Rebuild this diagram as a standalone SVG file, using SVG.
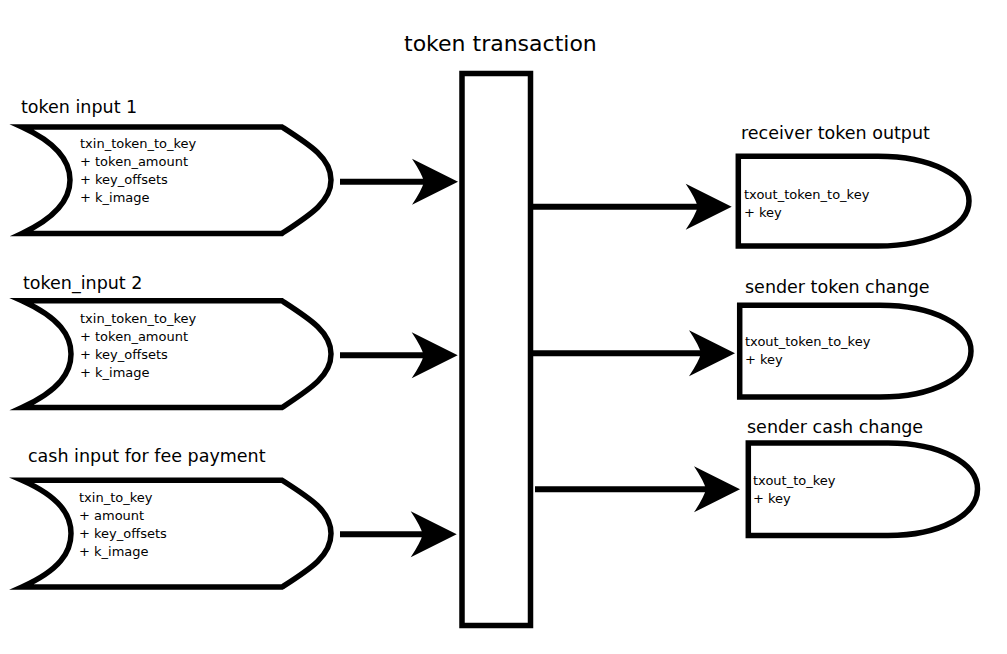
<svg xmlns="http://www.w3.org/2000/svg" xmlns:xlink="http://www.w3.org/1999/xlink" width="1007" height="654" viewBox="0 0 1007 654">
<style>
.shape{fill:#fff;stroke:#000;stroke-width:5.5;stroke-linejoin:miter;stroke-miterlimit:10}
.lbl{font-family:"DejaVu Sans",sans-serif;font-size:17.5px;fill:#000}
.ttl{font-family:"DejaVu Sans",sans-serif;font-size:22px;fill:#000}
.sm{font-family:"DejaVu Sans",sans-serif;font-size:13px;fill:#000}
.ln{stroke:#000;stroke-width:6;fill:none}
</style>
<defs>
<path id="ah" d="M0,0 L-46,-23 Q-36,-8 -34,0 Q-36,8 -46,23 Z" fill="#000"/>
</defs>
<rect width="1007" height="654" fill="#fff"/>

<g id="tx">
<rect class="shape" x="462" y="73.5" width="68.5" height="552"/>
<text class="ttl" x="404" y="51">token transaction</text>
</g>

<g id="in1">
<path class="shape" d="M22,127 H282 C310,145 331,158 331,180 C331,202 310,215 282,233.4 H22 C59,216 70,198 70,180 C70,162 59,144 22,127 Z"/>
<text class="lbl" x="21" y="113">token input 1</text>
<text class="sm" x="80" y="148">txin_token_to_key</text>
<text class="sm" x="80" y="166">+ token_amount</text>
<text class="sm" x="80" y="184">+ key_offsets</text>
<text class="sm" x="80" y="202">+ k_image</text>
</g>

<g id="in2">
<path class="shape" d="M22,300.8 H282 C310,319 331,332 331,354 C331,376 310,389 282,407.5 H22 C60,390 71,372 71,354 C71,336 60,318 22,300.8 Z"/>
<text class="lbl" x="23" y="289">token_input 2</text>
<text class="sm" x="80" y="322.5">txin_token_to_key</text>
<text class="sm" x="80" y="340.5">+ token_amount</text>
<text class="sm" x="80" y="358.5">+ key_offsets</text>
<text class="sm" x="80" y="376.5">+ k_image</text>
</g>

<g id="in3">
<path class="shape" d="M22,480.2 H282 C310,498 331,511 331,533.5 C331,556 310,569 282,587 H22 C60,570 71,552 71,533.5 C71,515 60,497 22,480.2 Z"/>
<text class="lbl" x="28" y="462">cash input for fee payment</text>
<text class="sm" x="79" y="501.5">txin_to_key</text>
<text class="sm" x="79" y="519.5">+ amount</text>
<text class="sm" x="79" y="537.5">+ key_offsets</text>
<text class="sm" x="79" y="555.5">+ k_image</text>
</g>

<g id="out1">
<path class="shape" d="M738.3,156.3 H878 C931,156.3 969,176 969,201 C969,226 931,246 878,246 H738.3 Z"/>
<text class="lbl" x="741" y="139">receiver token output</text>
<text class="sm" x="744" y="199">txout_token_to_key</text>
<text class="sm" x="744" y="217">+ key</text>
</g>

<g id="out2">
<path class="shape" d="M739.7,305.3 H880 C933,305.3 971,325 971,351 C971,377 933,397 880,397 H739.7 Z"/>
<text class="lbl" x="745" y="293">sender token change</text>
<text class="sm" x="745" y="346">txout_token_to_key</text>
<text class="sm" x="745" y="363.5">+ key</text>
</g>

<g id="out3">
<path class="shape" d="M748.3,443 H888 C940,443 977.5,463 977.5,489 C977.5,515 940,535.5 888,535.5 H748.3 Z"/>
<text class="lbl" x="747" y="433">sender cash change</text>
<text class="sm" x="753" y="485">txout_to_key</text>
<text class="sm" x="753" y="503">+ key</text>
</g>

<g id="connectors">
<line class="ln" x1="340" y1="181.7" x2="425" y2="181.7"/>
<use xlink:href="#ah" href="#ah" transform="translate(458,181.7)"/>
<line class="ln" x1="340" y1="355.3" x2="425" y2="355.3"/>
<use xlink:href="#ah" href="#ah" transform="translate(457.7,355.3)"/>
<line class="ln" x1="340" y1="534.3" x2="425" y2="534.3"/>
<use xlink:href="#ah" href="#ah" transform="translate(456.7,534.3)"/>
<line class="ln" x1="533" y1="206.7" x2="700" y2="206.7"/>
<use xlink:href="#ah" href="#ah" transform="translate(731.7,206.7)"/>
<line class="ln" x1="533" y1="353.3" x2="704" y2="353.3"/>
<use xlink:href="#ah" href="#ah" transform="translate(735,353.3)"/>
<line class="ln" x1="535" y1="489.3" x2="708" y2="489.3"/>
<use xlink:href="#ah" href="#ah" transform="translate(740,489.3)"/>
</g>
</svg>
